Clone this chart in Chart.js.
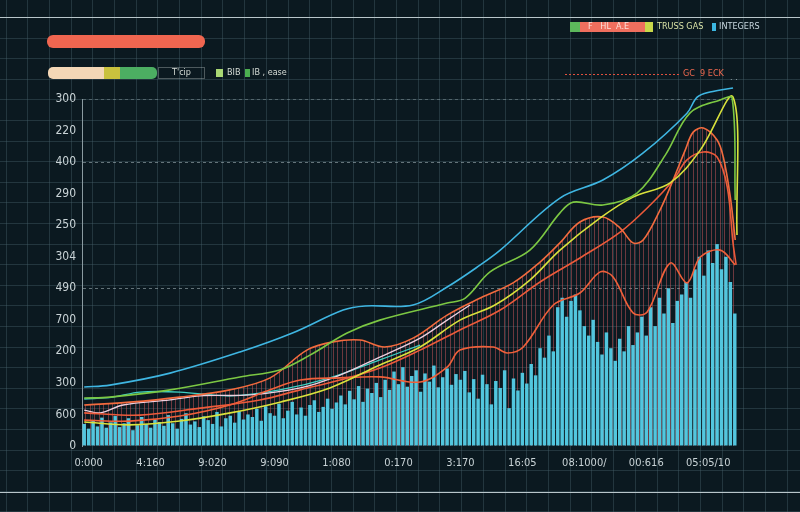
<!DOCTYPE html>
<html>
<head>
<meta charset="utf-8">
<script src="https://cdn.jsdelivr.net/npm/chart.js@4.4.0/dist/chart.umd.min.js"></script>
<style>
html,body{margin:0;padding:0;background:#0b1920;}
#wrap{width:800px;height:512px;position:relative;}
</style>
</head>
<body>
<div id="wrap"><canvas id="c" width="800" height="512"></canvas></div>
<script>
// ---- tick labels (as printed in the reference) ----
const yTickLabels = ["0","600","300","200","700","490","304","250","290","400","220","300"];
const xTickLabels = ["0:000","4:160","9:020","9:090","1:080","0:170","3:170","16:05","08:1000/","00:616","05:05/10"];
const xTickIndex  = [1,15,29,43,57,71,85,99,113,127,141];

// ---- bar series (148 samples) ----
const barValues = [
  70,55,80,62,90,58,75,95,60,72,88,50,66,92,70,58,84,76,
  64,98,72,55,86,104,68,78,60,94,82,70,108,62,88,96,74,110,84,100,
  92,118,80,126,104,96,134,88,112,140,100,122,96,130,145,108,124,150,118,138,
  160,132,175,148,190,140,182,168,200,155,
  210,178,236,196,250,188,222,240,172,230,204,255,186,218,246,194,228,210,
  238,170,212,150,226,196,132,206,184,240,120,214,176,232,198,
  260,224,310,280,350,300,440,470,410,460,480,430,
  380,350,400,330,290,360,310,270,340,300,380,320,360,
  410,350,440,380,470,420,500,390,460,480,
  520,470,560,600,540,620,580,640,560,600,520,
  420
];

// ---- line series: [sample index, value] ----
const cyanLine = [[0,187],[5.8,193],[19.4,231],[35.2,298],[47.2,359],[58.5,431],[63.5,444],[74.3,447],[82,504],[89.5,574],[94,621],[107.5,786],[117.2,843],[126.3,929],[136.2,1055],[138.5,1106],[141.4,1122],[146.6,1135]];
const greenLine = [[0,152],[5.8,155],[19.4,178],[35.2,219],[44.2,241],[51,288],[59.4,358],[66.8,399],[82,453],[86.1,469],[91.7,552],[100.7,621],[107.5,739],[110.5,773],[117.2,764],[124.9,802],[131.3,922],[136.9,1056],[143.7,1097],[146.4,1103],[147.1,780]];
const yellowLine = [[0,76],[10.3,67],[21.6,79],[33,105],[44.2,139],[55.5,184],[66.8,257],[75.9,314],[84.9,399],[92.8,447],[100.7,526],[107.5,621],[116.6,723],[124,789],[132.4,834],[139.2,938],[146.6,1106],[147.5,669]];
const peakLine = [[0,130],[10.3,139],[21.6,155],[32.9,178],[42,216],[50.3,304],[56.2,330],[62.3,336],[67.9,314],[74.3,342],[82,415],[89.5,469],[96.9,517],[103,583],[107.5,644],[112,710],[117.2,726],[121.1,691],[124,644],[126.3,653],[130.1,748],[132.8,834],[135.8,938],[137.6,995],[139.9,1008],[143,970],[144.4,916],[146,789],[147.1,653]];
const secondPeakLine = [[0,105],[12.6,98],[26.2,120],[39.7,146],[48.8,178],[57.8,209],[66.8,247],[75.9,304],[84.9,368],[94,431],[103,520],[112,596],[121.1,678],[127.9,764],[133.1,843],[136.2,907],[139.9,932],[143,916],[145.3,821],[146.6,644],[147.3,574]];
const wavyLine = [[0,82],[10.3,79],[21.6,95],[32.9,130],[42,178],[48.8,209],[57.8,216],[66.8,219],[75.9,203],[82,250],[84.9,304],[92.4,314],[95.6,295],[99.2,314],[106,447],[112,485],[116.6,552],[119.5,536],[124,422],[127.2,425],[132.4,580],[136.2,517],[139.2,599],[143.7,621],[147.1,574]];
const paleLine = [[0,114],[3.6,105],[8.8,130],[19.4,146],[26.2,159],[37.5,162],[48.8,184],[57.8,225],[66.8,282],[75.9,342],[82,399],[87.2,447]];
const tealLine = [[0,149],[6.5,155],[12.6,171],[21.6,171],[32.9,159],[44.2,178],[55.5,216],[66.8,273],[75.9,320]];

const pts = arr => arr.map(p => ({x: p[0], y: p[1]}));

const canvas = document.getElementById('c');
const ctx = canvas.getContext('2d');

// stripe pattern for the hatched area under the peak curve
const pc = document.createElement('canvas');
pc.width = 9; pc.height = 4;
const pctx = pc.getContext('2d');
pctx.fillStyle = 'rgba(205,88,92,0.5)';
pctx.fillRect(0,0,1,4);
pctx.fillRect(4,0,1,4);
const stripes = ctx.createPattern(pc, 'repeat');

const FONT = "'Liberation Sans Narrow','DejaVu Sans Condensed','DejaVu Sans',sans-serif";

const decor = {
  id: 'decor',
  beforeDraw(chart) {
    const c = chart.ctx;
    c.save();
    c.fillStyle = '#0b1920';
    c.fillRect(0,0,800,512);
    c.strokeStyle = 'rgba(70,95,105,0.42)';
    c.lineWidth = 1;
    for (let x = 5.5; x < 800; x += 21.7) {
      c.beginPath(); c.moveTo(Math.round(x)+0.5,0); c.lineTo(Math.round(x)+0.5,512); c.stroke();
    }
    for (let y = 17; y < 512; y += 20.6) {
      c.beginPath(); c.moveTo(0,Math.round(y)+0.5); c.lineTo(800,Math.round(y)+0.5); c.stroke();
    }
    c.strokeStyle = '#b9c6ca';
    c.beginPath(); c.moveTo(0,17.5); c.lineTo(800,17.5); c.stroke();
    c.beginPath(); c.moveTo(0,492.5); c.lineTo(800,492.5); c.stroke();
    c.restore();
  },
  afterDraw(chart) {
    const c = chart.ctx;
    c.save();
    const rr = (x,y,w,h,r,col) => { c.fillStyle = col; c.beginPath(); c.roundRect(x,y,w,h,r); c.fill(); };
    // title bar
    rr(47,35,158,13,6,'#f06650');
    // left legend row
    c.save();
    c.beginPath(); c.roundRect(48,67,109,12,5); c.clip();
    c.fillStyle = '#f3d7b6'; c.fillRect(48,67,56,12);
    c.fillStyle = '#c9c23e'; c.fillRect(104,67,16,12);
    c.fillStyle = '#4cae62'; c.fillRect(120,67,37,12);
    c.restore();
    c.strokeStyle = 'rgba(200,210,210,0.35)';
    c.strokeRect(158.5,67.5,46,11);
    c.font = '9px ' + FONT; c.textBaseline = 'middle';
    c.fillStyle = '#d6dcd6';
    c.fillText("T'cip", 172, 73);
    c.fillStyle = '#a9d774'; c.fillRect(216,69,7,8);
    c.fillStyle = '#d6dcd6'; c.fillText('BIB', 227, 73);
    c.fillStyle = '#4cae50'; c.fillRect(245,69,5,8);
    c.fillStyle = '#d6dcd6'; c.fillText('IB , ease', 252, 73);
    // right legend row (top)
    c.fillStyle = '#5cb85c'; c.fillRect(570,22,10,10);
    c.fillStyle = '#ef6f5e'; c.fillRect(580,22,66,10);
    c.fillStyle = '#c9d84a'; c.fillRect(645,22,8,10);
    c.fillStyle = '#fbe0d8'; c.fillText('F   HL  A.E', 588, 27);
    c.fillStyle = '#d9e2a6'; c.fillText('TRUSS GAS', 657, 27);
    c.fillStyle = '#3cb6e0'; c.fillRect(712,23,4,8);
    c.fillStyle = '#c9d8e0'; c.fillText('INTEGERS', 719, 27);
    // red dotted annotation line
    c.strokeStyle = '#e0503e'; c.setLineDash([2,2]); c.lineWidth = 1;
    c.beginPath(); c.moveTo(565,74.5); c.lineTo(680,74.5); c.stroke();
    c.setLineDash([]);
    c.fillStyle = '#f06a50'; c.fillText('GC  9 ECK', 683, 74);
    c.fillStyle = '#9aa8ac'; c.fillText('. .', 730, 78);
    c.restore();
  }
};

const lineDS = (label, data, color, extra) => Object.assign({
  type: 'line', label, data: pts(data), borderColor: color, borderWidth: 1.6,
  pointRadius: 0, tension: 0.35, fill: false, order: 1, clip: false
}, extra || {});

new Chart(canvas, {
  type: 'bar',
  data: {
    datasets: [
      lineDS('A', cyanLine, '#3fb6e2'),
      lineDS('B', greenLine, '#7cc843'),
      lineDS('C', yellowLine, '#d9e23c'),
      lineDS('D', peakLine, '#f36b3e', {fill: 'origin', backgroundColor: stripes}),
      lineDS('E', secondPeakLine, '#ec5a3a'),
      lineDS('F', wavyLine, '#f0603a'),
      lineDS('G', paleLine, '#ecd0e0', {borderWidth: 1.3}),
      lineDS('H', tealLine, '#3fcfc2', {borderWidth: 1.3}),
      {
        type: 'bar', label: 'bars',
        data: barValues.map((v,i) => ({x: i, y: v})),
        backgroundColor: '#52c6de',
        barPercentage: 0.78, categoryPercentage: 1,
        order: 2
      }
    ]
  },
  options: {
    responsive: false,
    animation: false,
    devicePixelRatio: 1,
    layout: {padding: {left: 0, right: 63, top: 99, bottom: 0}},
    plugins: {
      legend: {display: false},
      tooltip: {enabled: false},
      filler: {drawTime: 'beforeDatasetsDraw'}
    },
    scales: {
      x: {
        type: 'linear', min: -0.5, max: 147.5, offset: false,
        grid: {display: false},
        border: {display: false},
        afterBuildTicks: s => { s.ticks = xTickIndex.map(v => ({value: v})); },
        afterFit: s => { s.height = 66; },
        ticks: {
          autoSkip: false, maxRotation: 0, padding: 3,
          color: '#c9d3d6', font: {size: 11, family: FONT},
          callback: (v, i) => xTickLabels[i]
        }
      },
      y: {
        min: 0, max: 1100,
        afterFit: s => { s.width = 82; },
        grid: {
          drawTicks: false,
          color: c => {
            const v = c.tick ? c.tick.value : -1;
            if (v === 900 || v === 500) return 'rgba(175,190,195,0.55)';
            if (v === 1100) return 'rgba(175,190,195,0.35)';
            return 'rgba(0,0,0,0)';
          }
        },
        border: {display: true, color: '#8b9ba1', dash: [3,3]},
        ticks: {
          stepSize: 100, padding: 6,
          color: '#c9d3d6', font: {size: 12, family: FONT},
          callback: v => yTickLabels[Math.round(v/100)]
        }
      }
    }
  },
  plugins: [decor]
});
</script>
</body>
</html>
